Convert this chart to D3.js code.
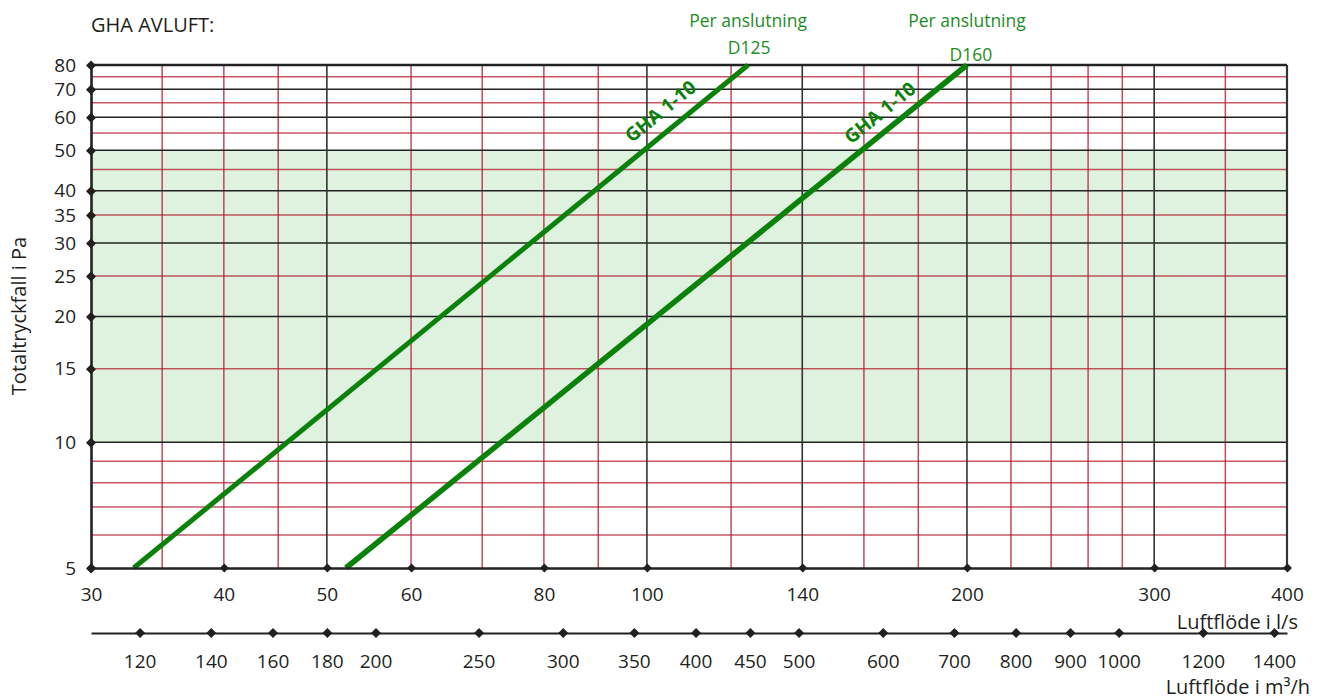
<!DOCTYPE html>
<html>
<head>
<meta charset="utf-8">
<script src="https://cdn.jsdelivr.net/npm/d3@7"></script>
<style>
  html, body { margin: 0; padding: 0; background: #fff; }
  svg { display: block; font-family: "Open Sans", "Noto Sans", sans-serif; }
</style>
</head>
<body>
<svg id="chart" width="1325" height="700"></svg>
<script>
// ---------- data ----------
const xTicksLs = [30, 40, 50, 60, 80, 100, 140, 200, 300, 400];
const xGridBlack = [50, 100, 140, 200, 300];
const xGridRed = [35, 40, 45, 60, 70, 80, 90, 120, 160, 180, 220, 240, 260, 280, 350];
const yTicks = [5, 10, 15, 20, 25, 30, 35, 40, 50, 60, 70, 80];
const yGridBlack = [10, 20, 30, 40, 50, 60, 70];
const yGridRed = [6, 7, 8, 9, 15, 25, 35, 45, 55, 65, 75];
const m3hTicks = [120, 140, 160, 180, 200, 250, 300, 350, 400, 450, 500, 600, 700, 800, 900, 1000, 1200, 1400];
const greenBand = [10, 50];
const seriesNames = ["D125", "D160"];
const d125Flow = [32.9, 124.5];
const d125Pa = [5, 80];
const d160Flow = [52.1, 200];
const d160Pa = [5, 80];
const lineLabel = "GHA 1-10";
const topLabel = "Per anslutning";

// ---------- layout ----------
const L = 91, R = 1287, T = 65, B = 568;
const svg = d3.select("#chart");
const x = d3.scaleLog().domain([30, 400]).range([L, R]);
const y = d3.scaleLog().domain([5, 80]).range([B, T]);
const x2 = d3.scaleLog().domain([30 * 3.6, 400 * 3.6]).range([L, R]);
const diamond = s => `M0,${-s}L${s},0L0,${s}L${-s},0Z`;

// green band
svg.append("rect")
  .attr("x", L).attr("width", R - L)
  .attr("y", y(greenBand[1])).attr("height", y(greenBand[0]) - y(greenBand[1]))
  .attr("fill", "#dff2df");

// grid
const g = svg.append("g");
g.selectAll(".hr").data(yGridRed).join("line")
  .attr("x1", L).attr("x2", R).attr("y1", d => y(d)).attr("y2", d => y(d))
  .attr("stroke", "#b3162e").attr("stroke-opacity", 0.72).attr("stroke-width", 1.5);
g.selectAll(".vr").data(xGridRed).join("line")
  .attr("x1", d => x(d)).attr("x2", d => x(d)).attr("y1", T).attr("y2", B)
  .attr("stroke", "#b3162e").attr("stroke-opacity", 0.78).attr("stroke-width", 1.5);
g.selectAll(".hb").data(yGridBlack).join("line")
  .attr("x1", L).attr("x2", R).attr("y1", d => y(d)).attr("y2", d => y(d))
  .attr("stroke", "#222").attr("stroke-width", 1.6);
g.selectAll(".vb").data(xGridBlack).join("line")
  .attr("x1", d => x(d)).attr("x2", d => x(d)).attr("y1", T).attr("y2", B)
  .attr("stroke", "#333").attr("stroke-width", 1.6);
// frame: top & right
svg.append("line").attr("x1", L).attr("x2", R).attr("y1", y(80)).attr("y2", y(80))
  .attr("stroke", "#222").attr("stroke-width", 2.6);
svg.append("line").attr("x1", x(400)).attr("x2", x(400)).attr("y1", T).attr("y2", B)
  .attr("stroke", "#333").attr("stroke-width", 2.2);

// series lines
const series = [
  { name: seriesNames[0], flow: d125Flow, pa: d125Pa, w: 5, off: 13, dx: 1, ty: 54 },
  { name: seriesNames[1], flow: d160Flow, pa: d160Pa, w: 5.5, off: 11, dx: 4, ty: 61 }
];
const line = d3.line().x(d => x(d[0])).y(d => y(d[1]));
series.forEach(s => {
  const pts = s.flow.map((f, i) => [f, s.pa[i]]);
  svg.append("path").attr("d", line(pts))
    .attr("fill", "none").attr("stroke", "#0a820a").attr("stroke-width", s.w);
  // label along line
  const x1 = x(pts[0][0]), y1 = y(pts[0][1]), x2p = x(pts[1][0]), y2p = y(pts[1][1]);
  const ang = Math.atan2(y2p - y1, x2p - x1) * 180 / Math.PI;
  const ly = y(57);
  const lx = x1 + (x2p - x1) * (ly - y1) / (y2p - y1);
  svg.append("text")
    .attr("transform", `translate(${lx},${ly}) rotate(${ang})`)
    .attr("x", 0).attr("y", -s.off)
    .attr("text-anchor", "middle")
    .attr("font-size", 19).attr("font-weight", "bold")
    .attr("fill", "#0a820a")
    .text(lineLabel);
  // top labels
  const tx = x(pts[1][0]);
  svg.append("text").attr("x", tx).attr("y", 27).attr("text-anchor", "middle")
    .attr("font-size", 17.5).attr("fill", "#1e8c1e").text(topLabel);
  svg.append("text").attr("x", tx + s.dx).attr("y", s.ty)
    .attr("text-anchor", "middle")
    .attr("font-size", 17.5).attr("fill", "#1e8c1e").text(s.name);
});

// y axis
const yAxis = svg.append("g").attr("transform", `translate(${L},0)`)
  .call(d3.axisLeft(y).tickValues(yTicks).tickFormat(d3.format("d")).tickSize(0).tickSizeOuter(0).tickPadding(15));
yAxis.select(".domain").attr("stroke", "#222").attr("stroke-width", 2.6);
yAxis.selectAll(".tick text").attr("font-size", 19).attr("fill", "#231f20")
  .attr("font-family", "'Open Sans', sans-serif");
yAxis.selectAll(".tick").append("path").attr("d", diamond(5)).attr("fill", "#231f20");

// x axis (l/s)
const xAxis = svg.append("g").attr("transform", `translate(0,${B})`)
  .call(d3.axisBottom(x).tickValues(xTicksLs).tickFormat(d3.format("d")).tickSize(0).tickSizeOuter(0).tickPadding(19.5));
xAxis.select(".domain").attr("stroke", "#222").attr("stroke-width", 2.4);
xAxis.selectAll(".tick text").attr("font-size", 19).attr("fill", "#231f20")
  .attr("font-family", "'Open Sans', sans-serif");
xAxis.selectAll(".tick").append("path").attr("d", diamond(4.5)).attr("fill", "#231f20");

// second axis (m3/h)
const x2Axis = svg.append("g").attr("transform", `translate(0,633)`)
  .call(d3.axisBottom(x2).tickValues(m3hTicks).tickFormat(d3.format("d")).tickSize(0).tickSizeOuter(0).tickPadding(22));
x2Axis.select(".domain").attr("stroke", "#222").attr("stroke-width", 2.2);
x2Axis.selectAll(".tick text").attr("font-size", 19).attr("fill", "#231f20")
  .attr("font-family", "'Open Sans', sans-serif");
x2Axis.selectAll(".tick").append("path").attr("d", diamond(5)).attr("fill", "#231f20");

// titles
svg.append("text").attr("x", L).attr("y", 32).attr("font-size", 20).attr("fill", "#231f20")
  .text("GHA AVLUFT:");
svg.append("text").attr("transform", "translate(26,316) rotate(-90)")
  .attr("text-anchor", "middle").attr("font-size", 20).attr("fill", "#231f20")
  .text("Totaltryckfall i Pa");
svg.append("text").attr("x", 1298).attr("y", 628.5).attr("text-anchor", "end")
  .attr("font-size", 20).attr("fill", "#231f20").text("Luftflöde i l/s");
svg.append("text").attr("x", 1310).attr("y", 694).attr("text-anchor", "end")
  .attr("font-size", 20).attr("fill", "#231f20").text("Luftflöde i m³/h");
</script>
</body>
</html>
